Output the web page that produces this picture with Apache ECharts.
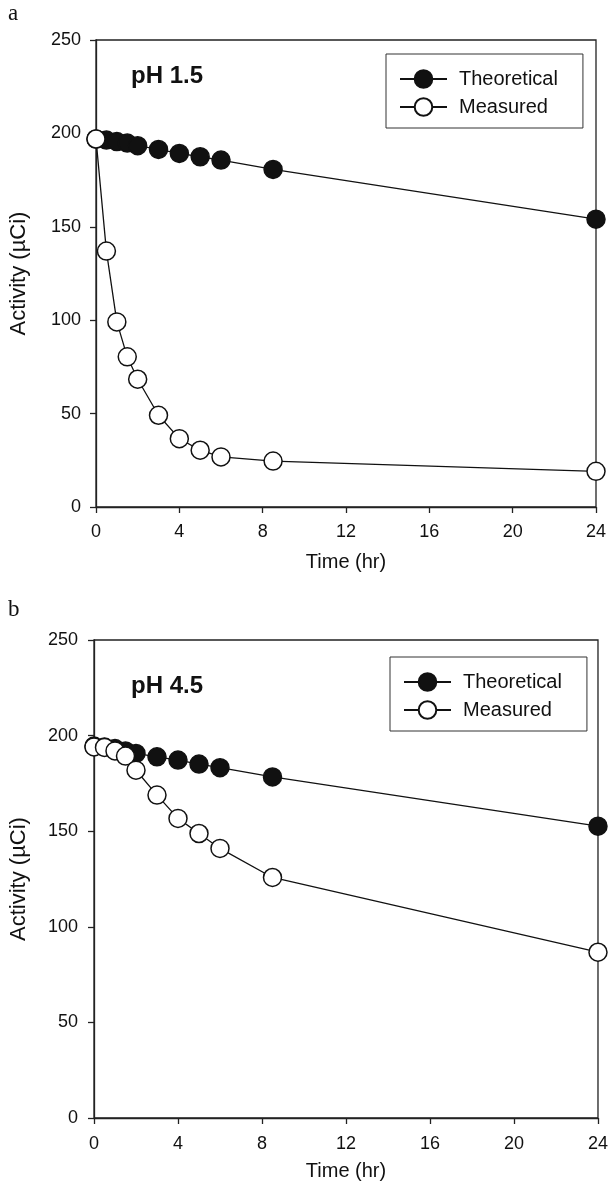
<!DOCTYPE html>
<html>
<head>
<meta charset="utf-8">
<script src="https://cdn.jsdelivr.net/npm/echarts@6/dist/echarts.min.js"></script>
<style>html,body{margin:0;padding:0;background:#fff}#c{width:611px;height:1201px}</style>
</head>
<body>
<div id="c"></div>
<script>
const times = [0, 0.5, 1, 1.5, 2, 3, 4, 5, 6, 8.5, 24];
const theoA = [197, 196.4, 195.6, 194.8, 193.4, 191.4, 189.3, 187.5, 185.7, 180.7, 154.1];
const measA = [197, 137, 99.1, 80.4, 68.4, 49.1, 36.6, 30.4, 26.8, 24.6, 19.1];
const theoB = [194.5, 194, 193.2, 192, 190.7, 188.9, 187.2, 185.1, 183.2, 178.4, 152.6];
const measB = [194.1, 193.8, 192, 189.3, 181.9, 168.9, 156.7, 148.8, 141, 125.8, 86.7];
const xTicks = [0, 4, 8, 12, 16, 20, 24];
const yTicks = [0, 50, 100, 150, 200, 250];
const panelLabels = ['a', 'b'];
const phLabels = ['pH 1.5', 'pH 4.5'];
const seriesNames = ['Theoretical', 'Measured'];
const xName = 'Time (hr)';
const yName = 'Activity (\u00b5Ci)';

const FONT = '"Liberation Sans", Arial, sans-serif';
const pair = (xs, ys) => xs.map((x, i) => [x, ys[i]]);

function xAxis(gi, nameGap, margin) {
  return {
    type: 'value', gridIndex: gi, min: xTicks[0], max: xTicks[xTicks.length - 1], interval: 4,
    name: xName, nameLocation: 'middle', nameGap: nameGap,
    nameTextStyle: { fontFamily: FONT, fontSize: 20, color: '#111' },
    axisLine: { lineStyle: { color: '#222', width: 1.3 } },
    axisTick: { show: true, inside: false, length: 6, lineStyle: { color: '#222', width: 1.3 } },
    axisLabel: { fontFamily: FONT, fontSize: 18, color: '#111', margin: margin },
    splitLine: { show: false }
  };
}
function yAxis(gi, nameGap, margin) {
  return {
    type: 'value', gridIndex: gi, min: yTicks[0], max: yTicks[yTicks.length - 1], interval: 50,
    name: yName, nameLocation: 'middle', nameGap: nameGap, nameRotate: 90,
    nameTextStyle: { fontFamily: FONT, fontSize: 22, color: '#111' },
    axisLine: { show: true, lineStyle: { color: '#222', width: 1.3 } },
    axisTick: { show: true, inside: false, length: 6, lineStyle: { color: '#222', width: 1.3 } },
    axisLabel: { fontFamily: FONT, fontSize: 18, color: '#111', margin: margin },
    splitLine: { show: false }
  };
}
function ser(name, gi, data, filled) {
  return {
    name: name, type: 'line', xAxisIndex: gi, yAxisIndex: gi, data: data,
    symbol: 'circle', symbolSize: 18, clip: false,
    lineStyle: { color: '#111', width: 1.3 },
    itemStyle: { color: filled ? '#111' : '#fff', borderColor: '#111', borderWidth: 1.5 },
    emphasis: { disabled: true }, animation: false
  };
}
function legend(left, top) {
  return {
    data: seriesNames, left: left, top: top, orient: 'vertical',
    itemWidth: 47, itemHeight: 22, itemGap: 8,
    padding: [15, 25, 11, 13], borderColor: '#333', borderWidth: 1,
    textStyle: { fontFamily: FONT, fontSize: 20, color: '#111', padding: [0, 0, 0, 7] },
    selectedMode: false
  };
}

const chart = echarts.init(document.getElementById('c'), null, { renderer: 'canvas' });
chart.setOption({
  animation: false,
  backgroundColor: '#fff',
  grid: [
    { left: 96, top: 40, width: 500, height: 467, show: true, borderColor: '#222', borderWidth: 1.3, backgroundColor: 'transparent' },
    { left: 92, top: 640, width: 509, height: 478, show: true, borderColor: '#222', borderWidth: 1.3, backgroundColor: 'transparent' }
  ],
  xAxis: [xAxis(0, 45, 16), xAxis(1, 43, 17)],
  yAxis: [yAxis(0, 66, 15), yAxis(1, 64, 16)],
  legend: [legend(386, 54), legend(390, 657)],
  series: [
    ser(seriesNames[0], 0, pair(times, theoA), true),
    ser(seriesNames[1], 0, pair(times, measA), false),
    ser(seriesNames[0], 1, pair(times, theoB), true),
    ser(seriesNames[1], 1, pair(times, measB), false)
  ],
  graphic: [
    { type: 'text', left: 8, top: 2, style: { text: panelLabels[0], font: '23px "Liberation Serif", serif', fill: '#111' } },
    { type: 'text', left: 8, top: 598, style: { text: panelLabels[1], font: '23px "Liberation Serif", serif', fill: '#111' } },
    { type: 'text', left: 131, top: 64, style: { text: phLabels[0], font: 'bold 24px "Liberation Sans", Arial, sans-serif', fill: '#111' } },
    { type: 'text', left: 131, top: 674, style: { text: phLabels[1], font: 'bold 24px "Liberation Sans", Arial, sans-serif', fill: '#111' } }
  ]
});
</script>
</body>
</html>
